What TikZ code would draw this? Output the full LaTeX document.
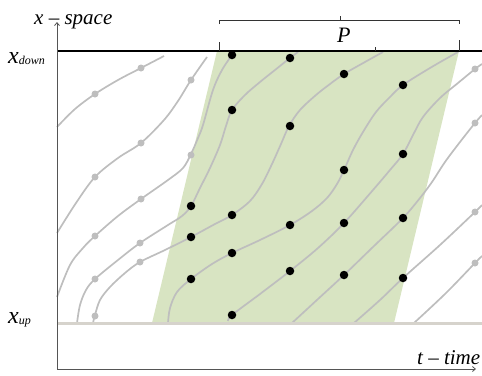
\documentclass[tikz,border=0pt]{standalone}
\usepackage{fontspec}
\setmainfont{Liberation Serif}
\usepackage{xcolor}
\definecolor{pathgray}{HTML}{BEBEBE}
\definecolor{windowgreen}{HTML}{D8E4C2}
\definecolor{floorgray}{HTML}{D6D3CC}
\definecolor{axisgray}{HTML}{555555}
\usetikzlibrary{arrows.meta}

\begin{document}
\begin{tikzpicture}[x=1pt, y=-1pt,
  traj/.style={draw=pathgray, line width=1.7pt, smooth, tension=0.55},
  bdot/.style={circle, fill=black, inner sep=0pt, minimum size=8.5pt},
  gdot/.style={circle, fill=pathgray, inner sep=0pt, minimum size=7pt},
  lbl/.style={font=\fontsize{21}{21}\selectfont\itshape, inner sep=0pt, anchor=base west},
  axis/.style={draw=axisgray, line width=0.8pt, -{Straight Barb[length=3pt,width=5pt]}},
  tick/.style={draw=black!80, line width=0.8pt}]
  \useasboundingbox (0,0) rectangle (482,375);

  \coordinate (o) at (57,369);
  \coordinate (ytop) at (57,22);
  \coordinate (xend) at (476,369);
  \coordinate (dl) at (57,51);
  \coordinate (dr) at (482,51);
  \coordinate (ul) at (57,323);
  \coordinate (ur) at (482,323);

  \fill[windowgreen] (217,51) -- (459,51) -- (394,323) -- (152,323) -- cycle;

  \draw[traj] plot coordinates {(57,127) (75,109) (95,94) (118,80) (141,68) (164,56)};
  \draw[traj] plot coordinates {(57,233) (76,203) (95,177) (118,158) (141,143) (164,120) (178,101) (191,80) (207,57)};
  \draw[traj] plot coordinates {(57,297) (70,265) (83,248) (95,236) (118,216) (141,199) (168,180) (183,168) (191,154) (198,138) (203,125) (213,90) (222,70) (232,55)};
  \draw[traj] plot coordinates {(77,323) (80,305) (86,290) (95,279) (118,260) (140,243) (168,225) (182,216) (191,206) (200,188) (210,168) (220,145) (226,126) (232,110) (245,95) (260,82) (275,70) (290,58) (298,52)};
  \draw[traj] plot coordinates {(93,323) (95,315) (100,300) (110,287) (125,273) (140,262) (165,250) (191,237) (215,224) (232,215) (250,201) (262,184) (272,164) (281,144) (289,126) (300,110) (316,95) (330,84) (344,74) (365,62) (383,52)};
  \draw[traj] plot coordinates {(168,323) (170,308) (177,292) (191,279) (212,264) (232,253) (260,240) (290,225) (312,211) (327,198) (337,184) (344,170) (353,150) (363,132) (376,112) (390,97) (403,85) (430,68) (458,52)};
  \draw[traj] plot coordinates {(228,321) (232,315) (260,294) (290,271) (318,248) (344,223) (373,190) (390,170) (403,154) (413,135) (423,117) (440,98) (458,83) (475,69) (482,64)};
  \draw[traj] plot coordinates {(292,323) (318,299) (344,275) (374,246) (403,218) (420,198) (432,182) (445,162) (460,142) (475,123) (482,115)};
  \draw[traj] plot coordinates {(354,323) (380,300) (403,278) (440,245) (475,212) (482,205)};
  \draw[traj] plot coordinates {(414,323) (446,293) (475,263) (482,256)};

  \draw[line width=2pt] (dl) -- (dr);
  \draw[floorgray, line width=3pt] (ul) -- (ur);

  \foreach \p [count=\i] in {(95,94), (141,68), (95,177), (141,143), (191,80), (95,236), (141,199), (191,155),
      (95,279), (140,243), (95,316), (140,262), (475,69), (475,123), (475,212), (475,263)}
    \node[gdot] (g\i) at \p {};
  \foreach \p [count=\i] in {(232,55), (290,58), (344,74), (403,85), (232,110), (290,126), (344,170), (403,154),
      (191,206), (232,215), (290,225), (344,223), (403,218), (191,237), (232,253), (290,271), (344,275), (403,278),
      (191,279), (232,315)}
    \node[bdot] (b\i) at \p {};

  \draw[axis] (o) -- (ytop);
  \draw[axis] (o) -- (xend);

  \draw[tick] (219,24) -- (219,20) -- (459,20) -- (459,24);
  \draw[tick] (340,20) -- (340,16);
  \draw[tick] (219,51) -- (219,42);
  \draw[tick] (375,51) -- (375,47);
  \draw[tick] (459,51) -- (459,40);

  \node[lbl] (xlab) at (34,24) {x – space};
  \node[lbl] (tlab) at (417,364) {t – time};
  \node[lbl, font=\fontsize{22}{22}\selectfont\itshape] (plab) at (337,42) {P};
  \node[inner sep=0pt, anchor=base west] (xdown) at (8,63) {\fontsize{24}{24}\selectfont\itshape x\raisebox{-1pt}{\fontsize{12}{12}\selectfont down}};
  \node[inner sep=0pt, anchor=base west] (xup) at (8,323) {\fontsize{24}{24}\selectfont\itshape x\raisebox{-1pt}{\fontsize{12}{12}\selectfont up}};
\end{tikzpicture}
\end{document}
